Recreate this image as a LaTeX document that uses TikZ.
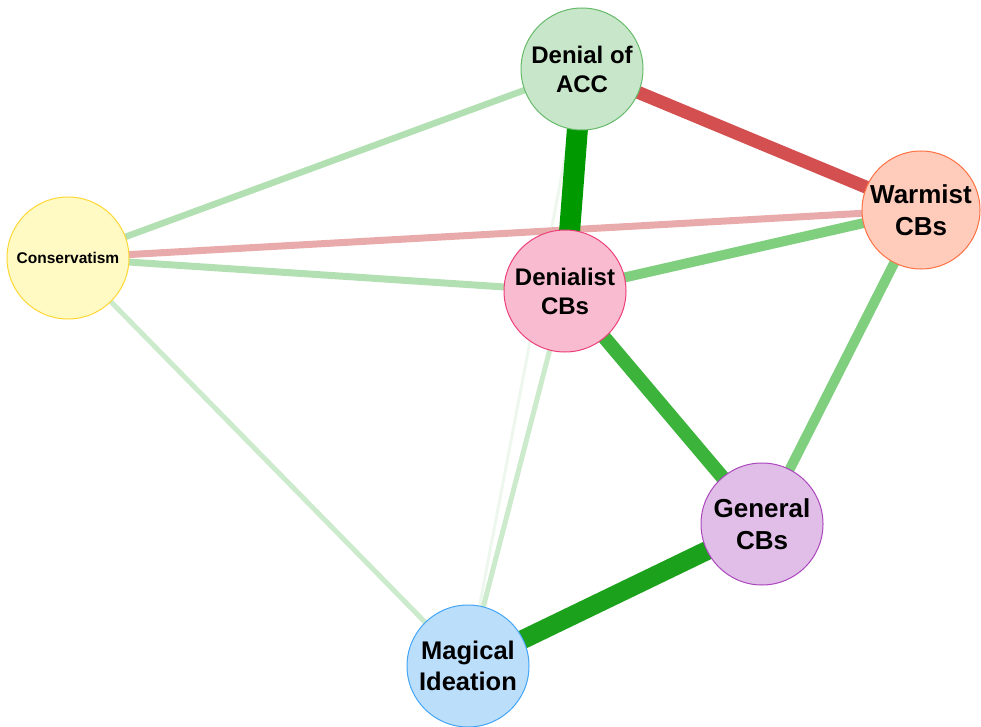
\documentclass[tikz,border=0pt]{standalone}
\usepackage{fontspec}
\setmainfont{Liberation Sans}
\usetikzlibrary{backgrounds}
\definecolor{eRed}{HTML}{D45050}
\definecolor{eG1}{HTML}{009900}
\definecolor{eG2}{HTML}{1BA11B}
\definecolor{eG3}{HTML}{3CB43C}
\definecolor{eG4}{HTML}{7FCF7F}
\definecolor{eG5}{HTML}{B3E0B3}
\definecolor{eG6}{HTML}{CCEACC}
\definecolor{eG7}{HTML}{EEF7EE}
\definecolor{ePink}{HTML}{E8AAAA}
\definecolor{fDA}{HTML}{C8E6C9}\definecolor{bDA}{HTML}{66BB6A}
\definecolor{fCO}{HTML}{FFF9C4}\definecolor{bCO}{HTML}{FDD835}
\definecolor{fWC}{HTML}{FFCCBC}\definecolor{bWC}{HTML}{FF7043}
\definecolor{fDC}{HTML}{F8BBD0}\definecolor{bDC}{HTML}{EC407A}
\definecolor{fGC}{HTML}{E1BEE7}\definecolor{bGC}{HTML}{AB47BC}
\definecolor{fMI}{HTML}{BBDEFB}\definecolor{bMI}{HTML}{42A5F5}
\tikzset{
  vnode/.style={circle, inner sep=0pt, line width=1pt, align=center,
    font=\bfseries\fontsize{24}{29}\selectfont},
  edge/.style={line cap=butt},
}
\begin{document}
\begin{tikzpicture}[x=1pt,y=-1pt]
\useasboundingbox (0,0) rectangle (981,727);
\node[vnode, minimum size=122pt, fill=fDA, draw=bDA] (DA) at (582,69) {Denial of\\ACC};
\node[vnode, minimum size=118pt, fill=fWC, draw=bWC, font=\bfseries\fontsize{26}{32}\selectfont] (WC) at (921,210) {Warmist\\CBs};
\node[vnode, minimum size=122pt, fill=fCO, draw=bCO, font=\bfseries\fontsize{15.5}{18}\selectfont] (CO) at (68,258) {Conservatism};
\node[vnode, minimum size=122pt, fill=fDC, draw=bDC] (DC) at (565,291) {Denialist\\CBs};
\node[vnode, minimum size=122pt, fill=fGC, draw=bGC, font=\bfseries\fontsize{26}{32}\selectfont] (GC) at (762,524) {General\\CBs};
\node[vnode, minimum size=122pt, fill=fMI, draw=bMI, font=\bfseries\fontsize{25.5}{31}\selectfont] (MI) at (468,666) {Magical\\Ideation};
\begin{scope}[on background layer]
\draw[edge, eG7, line width=3pt] (DA.center) -- (MI.center);
\draw[edge, eG6, line width=5pt] (CO.center) -- (MI.center);
\draw[edge, eG6, line width=5pt] (DC.center) -- (MI.center);
\draw[edge, eG5, line width=6.5pt] (CO.center) -- (DA.center);
\draw[edge, eG5, line width=7pt] (CO.center) -- (DC.center);
\draw[edge, ePink, line width=7pt] (CO.center) -- (WC.center);
\draw[edge, eG4, line width=10pt] (DC.center) -- (WC.center);
\draw[edge, eG4, line width=10pt] (WC.center) -- (GC.center);
\draw[edge, eG3, line width=14pt] (DC.center) -- (GC.center);
\draw[edge, eG2, line width=19pt] (GC.center) -- (MI.center);
\draw[edge, eRed, line width=13pt] (DA.center) -- (WC.center);
\draw[edge, eG1, line width=21pt] (DA.center) -- (DC.center);
\end{scope}
\end{tikzpicture}
\end{document}
